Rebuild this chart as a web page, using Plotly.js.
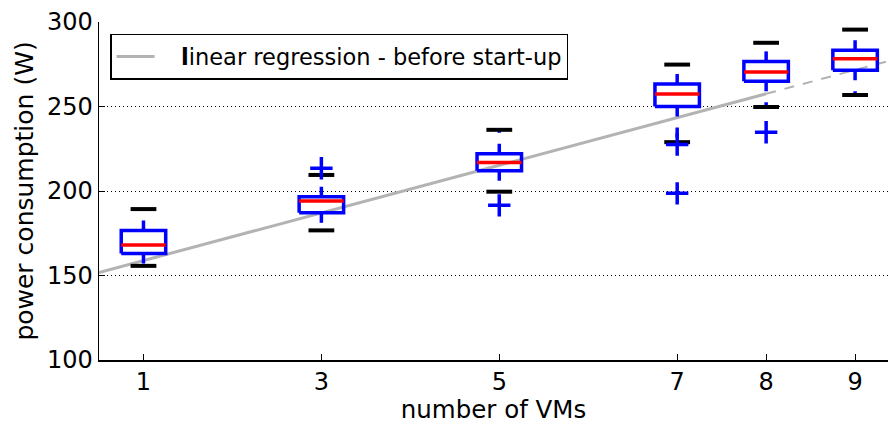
<!DOCTYPE html>
<html>
<head>
<meta charset="utf-8">
<script src="https://cdn.plot.ly/plotly-3.0.1.min.js"></script>
<style>html,body{margin:0;padding:0;background:#fff;}#chart{width:888px;height:424px;}</style>
</head>
<body>
<div id="chart"></div>
<script>
// ---- data ----
const vms       = [1, 3, 5, 7, 8, 9];
const xTickText = ['1', '3', '5', '7', '8', '9'];
const capLow    = [155.7, 176.7, 199.6, 228.9, 249.7, 256.8];
const q1        = [163.0, 187.1, 212.0, 250.0, 264.9, 271.4];
const medians   = [168.1, 194.1, 216.8, 257.4, 270.4, 278.3];
const q3        = [176.7, 196.6, 222.1, 263.3, 276.7, 283.3];
const capHigh   = [189.3, 209.5, 236.2, 274.8, 287.7, 295.5];
const flierX    = [3, 5, 7, 7, 8];
const flierY    = [213.5, 191.5, 227.5, 198.6, 234.8];
// linear regression (before start-up) endpoints, and its dashed extrapolation
const regX      = [0.5, 8];
const regY      = [151.8, 257.5];
const regExtX   = [8, 9.5];
const regExtY   = [257.5, 278.7];
const yTicks    = [100, 150, 200, 250, 300];

// ---- geometry constants (style) ----
const BOX_HALF = 0.25, CAP_HALF = 0.145, LW = 3.5;
const BLUE = '#0000ff', RED = '#ff0000', GRAY = '#b3b3b3';

const boxX = [], boxY = [], medX = [], medY = [], capX = [], capY = [], whX = [], whY = [];
vms.forEach((v, i) => {
  boxX.push(v - BOX_HALF, v + BOX_HALF, v + BOX_HALF, v - BOX_HALF, v - BOX_HALF, null);
  boxY.push(q1[i], q1[i], q3[i], q3[i], q1[i], null);
  medX.push(v - BOX_HALF, v + BOX_HALF, null);
  medY.push(medians[i], medians[i], null);
  capX.push(v - CAP_HALF, v + CAP_HALF, null, v - CAP_HALF, v + CAP_HALF, null);
  capY.push(capLow[i], capLow[i], null, capHigh[i], capHigh[i], null);
  whX.push(v, v, null, v, v, null);
  whY.push(q3[i], capHigh[i], null, q1[i], capLow[i], null);
});

const traces = [
  {x: regX, y: regY, mode: 'lines', line: {color: GRAY, width: 3},
   name: '\u00a0\u00a0\u00a0<b>l</b>inear regression - before start-up', showlegend: true, hoverinfo: 'skip'},
  {x: regExtX, y: regExtY, mode: 'lines', line: {color: GRAY, width: 2, dash: '10px,9px'},
   showlegend: false, hoverinfo: 'skip'},
  {x: whX, y: whY, mode: 'lines', line: {color: BLUE, width: LW, dash: '10px,11px'},
   connectgaps: false, showlegend: false, hoverinfo: 'skip'},
  {x: capX, y: capY, mode: 'lines', line: {color: '#000000', width: 4},
   connectgaps: false, showlegend: false, hoverinfo: 'skip'},
  {x: boxX, y: boxY, mode: 'lines', line: {color: BLUE, width: LW},
   connectgaps: false, showlegend: false, hoverinfo: 'skip'},
  {x: medX, y: medY, mode: 'lines', line: {color: RED, width: LW},
   connectgaps: false, showlegend: false, hoverinfo: 'skip'},
  {x: flierX, y: flierY, mode: 'markers',
   marker: {symbol: 'cross-thin', size: 16, color: BLUE, line: {color: BLUE, width: 3.5}},
   showlegend: false, hoverinfo: 'skip'}
];

const layout = {
  width: 888, height: 424,
  margin: {l: 99, r: 0, t: 22, b: 64},
  paper_bgcolor: '#ffffff', plot_bgcolor: '#ffffff',
  font: {family: 'DejaVu Sans', size: 24, color: '#000000'},
  showlegend: true,
  legend: {
    x: 0.014, y: 0.965, xanchor: 'left', yanchor: 'top',
    bgcolor: '#ffffff', bordercolor: '#000000', borderwidth: 1.5,
    itemwidth: 38,
    font: {family: 'DejaVu Sans', size: 22.5, color: '#000000'}
  },
  xaxis: {
    range: [0.5, 9.37], tickmode: 'array', tickvals: vms, ticktext: xTickText,
    showline: true, linecolor: '#000000', linewidth: 1.5,
    ticks: 'inside', ticklen: 6, tickcolor: '#000000', tickwidth: 1,
    showgrid: false, zeroline: false,
    tickfont: {size: 24},
    title: {text: 'number of VMs', font: {size: 24.5}, standoff: 8}
  },
  yaxis: {
    range: [100, 300], tickmode: 'array', tickvals: yTicks,
    showline: true, linecolor: '#000000', linewidth: 1.5,
    ticks: 'inside', ticklen: 6, tickcolor: '#000000', tickwidth: 1,
    showgrid: true, gridcolor: '#000000', gridwidth: 1, griddash: '1px,3px',
    zeroline: false,
    tickfont: {size: 24},
    title: {text: 'power consumption (W)', font: {size: 25}, standoff: 6}
  }
};

Plotly.newPlot('chart', traces, layout, {staticPlot: true, displayModeBar: false});
</script>
</body>
</html>
